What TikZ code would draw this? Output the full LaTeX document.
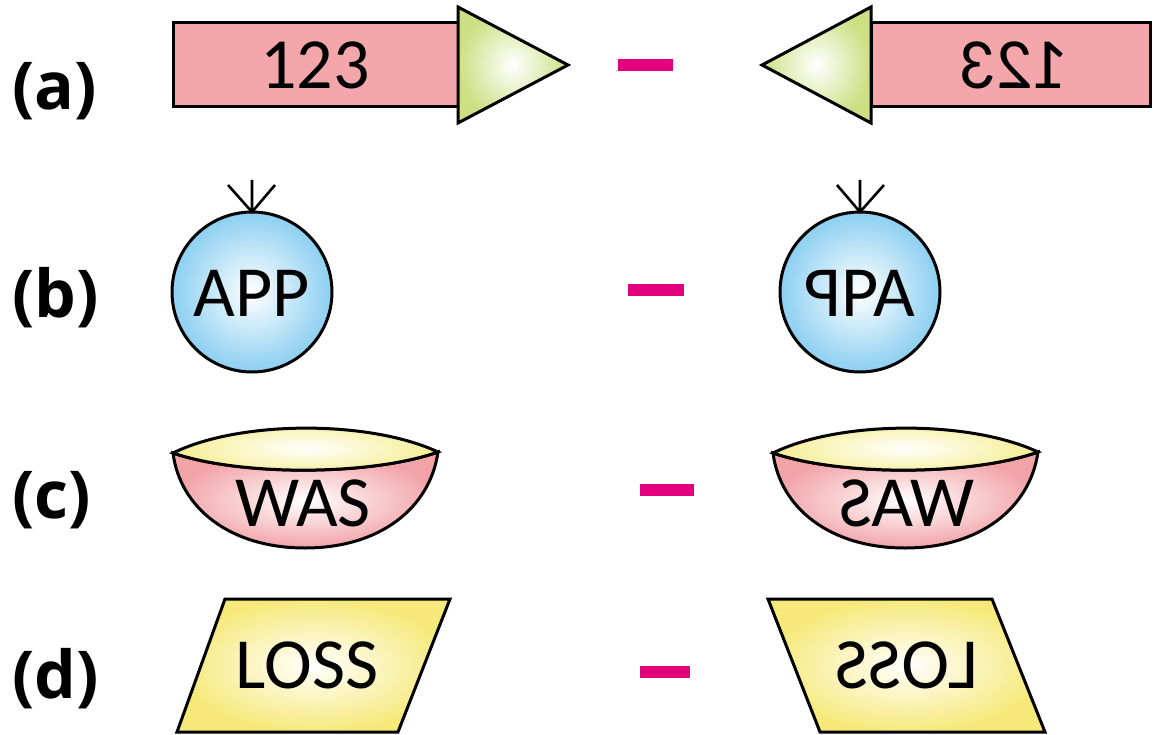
\documentclass[tikz,border=0pt]{standalone}
\usepackage{fontspec}
\usepackage{graphicx}
\setmainfont{Carlito}
\newfontfamily\lblfont{Open Sans}
\usetikzlibrary{shapes.geometric}
\definecolor{rectpink}{HTML}{F4A7AA}
\definecolor{trigreen}{HTML}{CCDF82}
\definecolor{ballblue}{HTML}{8CCFF1}
\definecolor{bowlpink}{HTML}{F2A3A8}
\definecolor{lensyel}{HTML}{F5EE93}
\definecolor{parayel}{HTML}{F6E97A}
\definecolor{dashmag}{HTML}{E2007F}
\tikzset{
  outline/.style={draw=black, line width=3pt, line join=miter},
  shout/.style={draw=black, line width=3pt, line join=miter, inner color=white},
  lbl/.style={font=\lblfont\bfseries\fontsize{66}{74}\selectfont, anchor=base west, inner sep=0pt},
  inner/.style={font=\fontsize{72}{80}\selectfont, inner sep=0pt},
  minus/.style={draw=dashmag, line width=12pt},
  antenna/.style={line width=2.6pt},
}
\begin{document}
\begin{tikzpicture}[x=1pt,y=-1pt]
\useasboundingbox (0,0) rectangle (1154,735);
% labels
\node[lbl] (la) at (12,110) {(a)};
\node[lbl] (lb) at (12,318) {(b)};
\node[lbl] (lc) at (12,518) {(c)};
\node[lbl] (ld) at (12,698) {(d)};

% (a) left arrow
\draw[outline, fill=rectpink] (173,23) rectangle (458,107);
\shade[shout, outer color=trigreen] (458,7) -- (568,65) -- (458,123) -- cycle;
\node[inner] (t123) at (315,65) {123};
% (a) right arrow
\draw[outline, fill=rectpink] (871,23) rectangle (1150,107);
\shade[shout, outer color=trigreen] (871,7) -- (762,65) -- (871,123) -- cycle;
\node[inner] (t123r) at (1015,65) {\reflectbox{123}};
\coordinate (ma1) at (618,65); \coordinate (ma2) at (673,65);
\draw[minus] (ma1) -- (ma2);

% (b)
\draw[antenna] (252,212) -- (252,180) (252,212) -- (228,185) (252,212) -- (275,185);
\shade[shout, outer color=ballblue] (252,292) circle (80);
\node[inner] (app) at (252,293) {APP};
\draw[antenna] (860,212) -- (860,180) (860,212) -- (837,185) (860,212) -- (884,185);
\shade[shout, outer color=ballblue] (860,292) circle (80);
\node[inner] (appr) at (860,293) {\reflectbox{P}PA};
\coordinate (mb1) at (628,290); \coordinate (mb2) at (684,290);
\draw[minus] (mb1) -- (mb2);

% (c)
\foreach \cx in {305, 905} {
  \shade[shout, outer color=bowlpink]
    (\cx-132,453) .. controls (\cx-125,508) and (\cx-75,548) .. (\cx,548)
    .. controls (\cx+75,548) and (\cx+125,508) .. (\cx+133,452)
    .. controls (\cx+65,476) and (\cx-65,476) .. cycle;
  \shade[shout, outer color=lensyel]
    (\cx-132,453) .. controls (\cx-65,420) and (\cx+65,420) .. (\cx+133,452)
    .. controls (\cx+65,476) and (\cx-65,476) .. cycle;
}
\node[inner] (was) at (303,503) {WAS};
\node[inner] (wasr) at (907,503) {\reflectbox{WAS}};
\coordinate (mc1) at (640,490); \coordinate (mc2) at (694,490);
\draw[minus] (mc1) -- (mc2);

% (d)
\shade[shout, outer color=parayel] (225,599) -- (450,599) -- (398,732) -- (177,732) -- cycle;
\node[inner] (loss) at (307,665) {LOSS};
\shade[shout, outer color=parayel] (768,599) -- (992,599) -- (1045,732) -- (820,732) -- cycle;
\node[inner] (lossr) at (907,665) {\reflectbox{LOSS}};
\coordinate (md1) at (640,672); \coordinate (md2) at (690,672);
\draw[minus] (md1) -- (md2);
\end{tikzpicture}
\end{document}
